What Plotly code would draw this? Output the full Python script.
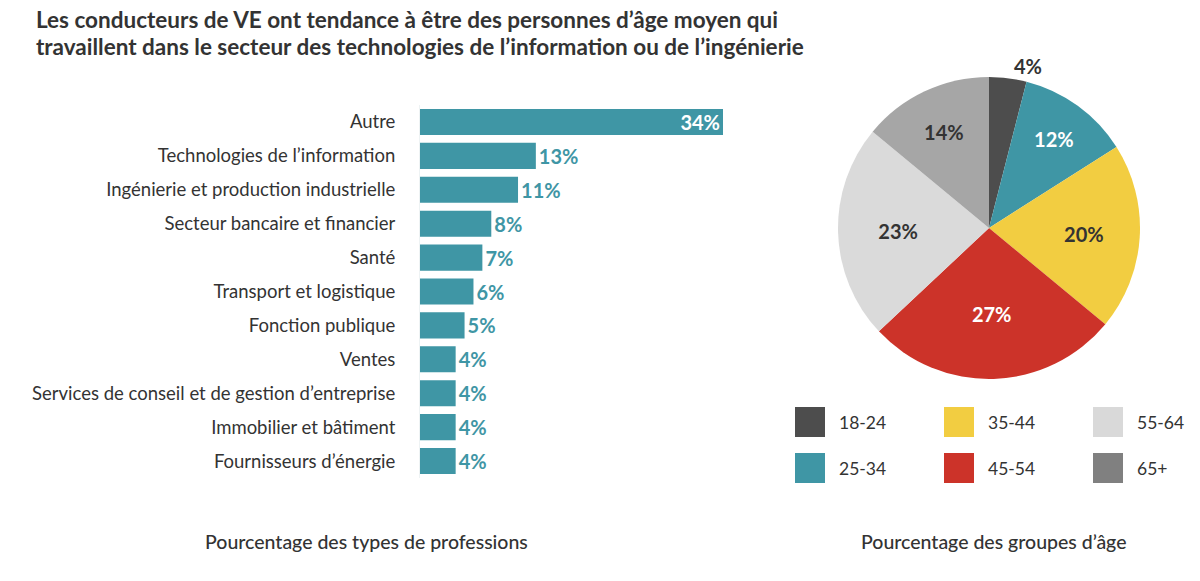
import plotly.graph_objects as go

# ---- data ----
professions = [
    "Autre",
    "Technologies de l’information",
    "Ingénierie et production industrielle",
    "Secteur bancaire et financier",
    "Santé",
    "Transport et logistique",
    "Fonction publique",
    "Ventes",
    "Services de conseil et de gestion d’entreprise",
    "Immobilier et bâtiment",
    "Fournisseurs d’énergie",
]
profession_pct = [34, 13, 11, 8, 7, 6, 5, 4, 4, 4, 4]

age_groups = ["18-24", "25-34", "35-44", "45-54", "55-64", "65+"]
age_pct = [4, 12, 20, 27, 23, 14]

title_lines = [
    "Les conducteurs de VE ont tendance à être des personnes d’âge moyen qui",
    "travaillent dans le secteur des technologies de l’information ou de l’ingénierie",
]
bar_caption = "Pourcentage des types de professions"
pie_caption = "Pourcentage des groupes d’âge"

# ---- styles ----
W, H = 1200, 581
FONT = "Lato"
TEAL = "#3f96a5"
DARK = "#333333"
pie_colors = ["#4d4d4d", "#3f96a5", "#f2cd41", "#cc3329", "#dadada", "#a6a6a6"]
legend_colors = ["#4d4d4d", "#3f96a5", "#f2cd41", "#cc3329", "#d9d9d9", "#808080"]
pie_text_colors = [DARK, "white", DARK, "white", DARK, DARK]


def px(x):
    return x / W


def py(y):
    return 1 - y / H


fig = go.Figure()

n = len(professions)
fig.add_trace(go.Bar(
    x=profession_pct,
    y=professions,
    orientation="h",
    marker=dict(color=TEAL, line=dict(width=0)),
    text=[f"{v}%" for v in profession_pct],
    textposition=["inside"] + ["outside"] * (n - 1),
    insidetextanchor="end",
    insidetextfont=dict(family=FONT, size=20, color="white", weight="bold"),
    outsidetextfont=dict(family=FONT, size=20, color=TEAL, weight="bold"),
    textangle=0,
    cliponaxis=False,
    hoverinfo="skip",
    showlegend=False,
))

fig.add_trace(go.Pie(
    labels=age_groups,
    values=age_pct,
    sort=False,
    direction="clockwise",
    rotation=0,
    marker=dict(colors=pie_colors, line=dict(width=0)),
    text=[f"{v}%" for v in age_pct],
    textinfo="text",
    textposition=["outside"] + ["inside"] * (len(age_pct) - 1),
    insidetextorientation="horizontal",
    textfont=dict(family=FONT, size=20, color=pie_text_colors, weight="bold"),
    outsidetextfont=dict(family=FONT, size=20, color=DARK, weight="bold"),
    domain=dict(x=[px(838), px(1140)], y=[py(379), py(77)]),
    showlegend=False,
    hoverinfo="skip",
))

fig.update_layout(
    width=W, height=H,
    margin=dict(l=0, r=0, t=0, b=0),
    paper_bgcolor="white",
    plot_bgcolor="white",
    bargap=0.23,
    uniformtext=dict(minsize=20, mode="show"),
    font=dict(family=FONT, color=DARK),
    xaxis=dict(
        domain=[px(420), px(780)],
        range=[0, 34 * 360 / 303],
        visible=False,
        fixedrange=True,
    ),
    yaxis=dict(
        domain=[py(478), py(105)],
        autorange="reversed",
        showgrid=False,
        zeroline=False,
        showline=True,
        linecolor="#eef3f4",
        linewidth=1,
        ticks="",
        ticklabelstandoff=20,
        tickfont=dict(family=FONT, size=18.5, color=DARK),
        fixedrange=True,
    ),
)

annotations = []
for i, line in enumerate(title_lines):
    annotations.append(dict(
        text=line, x=px(34), y=py(19 + 27 * i), xref="paper", yref="paper",
        xanchor="left", yanchor="middle", showarrow=False,
        font=dict(family=FONT, size=22.5, color=DARK, weight="bold"),
    ))
annotations.append(dict(
    text=bar_caption, x=px(366), y=py(541), xref="paper", yref="paper",
    xanchor="center", yanchor="middle", showarrow=False,
    font=dict(family=FONT, size=19.5, color=DARK, weight=500),
))
annotations.append(dict(
    text=pie_caption, x=px(993), y=py(541), xref="paper", yref="paper",
    xanchor="center", yanchor="middle", showarrow=False,
    font=dict(family=FONT, size=19.5, color=DARK, weight=500),
))

shapes = []
col_x = [795, 944, 1093]
row_y = [407, 453]
for k, (lab, col) in enumerate(zip(age_groups, legend_colors)):
    c, r = divmod(k, 2)
    x0, y0 = col_x[c], row_y[r]
    shapes.append(dict(
        type="rect", xref="paper", yref="paper",
        x0=px(x0), x1=px(x0 + 30), y0=py(y0 + 30), y1=py(y0),
        fillcolor=col, line=dict(width=0),
    ))
    annotations.append(dict(
        text=lab, x=px(x0 + 42), y=py(y0 + 15), xref="paper", yref="paper",
        xanchor="left", yanchor="middle", showarrow=False,
        font=dict(family=FONT, size=17.5, color=DARK),
    ))

fig.update_layout(annotations=annotations, shapes=shapes)

fig.write_html(
    "out.html",
    config=dict(displayModeBar=False),
    post_script="document.body.style.margin='0';document.body.style.overflow='hidden';",
)
